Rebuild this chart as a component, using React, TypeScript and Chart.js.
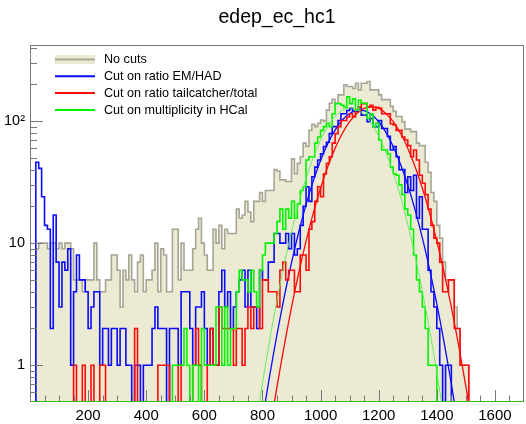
import React, { useEffect, useRef } from 'react';
import { Chart, registerables } from 'chart.js';

Chart.register(...registerables);

// ---------- data ----------
const titleText = 'edep_ec_hc1';
const binWidth = 10;
const xMin = 0;
const xMax = 1700;
const yMin = 0.5;
const yMax = 420;

const seriesLabels = [
  'No cuts',
  'Cut on ratio EM/HAD',
  'Cut on ratio tailcatcher/total',
  'Cut on multiplicity in HCal',
];

// counts per 10-unit bin, 0..1700
const noCuts = [
  0, 0, 9, 10, 10, 10, 9, 10, 10, 9,
  10, 9, 10, 10, 9, 5, 5, 5, 4, 5,
  5, 5, 10, 5, 4, 4, 5, 5, 8, 8,
  6, 3, 6, 5, 8, 5, 4, 7, 8, 4,
  5, 5, 6, 10, 4, 9, 8, 4, 4, 13,
  13, 5, 10, 6, 6, 6, 9, 13, 16, 10,
  8, 6, 6, 13, 10, 14, 9, 13, 12, 12,
  12, 19, 16, 17, 22, 18, 15, 22, 22, 26,
  22, 27, 27, 27, 40, 39, 33, 33, 32, 32,
  49, 37, 45, 51, 66, 62, 84, 94, 90, 96,
  102, 100, 123, 140, 151, 140, 164, 164, 198, 192,
  192, 185, 204, 180, 204, 204, 211, 180, 180, 180,
  164, 150, 150, 150, 132, 120, 109, 109, 99, 86,
  86, 82, 82, 66, 63, 63, 46, 38, 26, 22,
  14, 11, 7, 5, 5, 5, 3, 2, 1, 1,
  1, 0, 0, 0, 0, 0, 0, 0, 0, 0,
  0, 0, 0, 0, 0, 0, 0, 0, 0, 0,
];

const cutEmHad = [
  0, 0, 46, 41, 24, 14, 13, 2, 17, 7,
  3, 7, 6, 9, 1, 4, 8, 5, 5, 4,
  2, 3, 4, 4, 1, 2, 2, 1, 2, 2,
  1, 2, 2, 1, 1, 0, 1, 1, 0, 1,
  1, 1, 2, 3, 2, 2, 2, 0, 2, 2,
  2, 1, 4, 4, 4, 2, 1, 3, 3, 4,
  2, 1, 2, 1, 1, 4, 6, 3, 4, 2,
  3, 4, 5, 6, 3, 6, 3, 3, 2, 6,
  5, 5, 7, 7, 12, 12, 10, 10, 12, 9,
  12, 8, 9, 14, 20, 29, 22, 35, 42, 48,
  54, 62, 67, 79, 90, 90, 101, 115, 115, 122,
  127, 120, 120, 130, 112, 112, 99, 105, 90, 90,
  101, 87, 87, 75, 58, 62, 51, 40, 40, 26,
  35, 27, 36, 16, 24, 13, 13, 6, 4, 3,
  2, 1, 0, 1, 1, 0, 0, 0, 0, 0,
  0, 0, 0, 0, 0, 0, 0, 0, 0, 0,
  0, 0, 0, 0, 0, 0, 0, 0, 0, 0,
];

const cutTail = [
  0, 0, 0, 0, 0, 0, 0, 0, 0, 0,
  0, 0, 0, 0, 0, 1, 0, 0, 1, 0,
  0, 1, 0, 0, 1, 1, 0, 0, 0, 0,
  0, 0, 0, 0, 0, 0, 2, 0, 0, 0,
  0, 0, 0, 0, 1, 1, 1, 1, 0, 0,
  0, 1, 0, 0, 0, 0, 1, 2, 1, 0,
  0, 1, 2, 1, 1, 3, 2, 2, 2, 2,
  1, 2, 2, 1, 2, 3, 2, 3, 3, 2,
  5, 5, 4, 4, 4, 3, 6, 7, 5, 6,
  6, 4, 4, 8, 8, 6, 13, 15, 22, 29,
  24, 37, 45, 51, 66, 79, 90, 101, 101, 108,
  115, 108, 123, 130, 139, 139, 130, 135, 123, 130,
  128, 115, 115, 115, 95, 93, 84, 84, 74, 70,
  63, 51, 58, 48, 36, 31, 25, 19, 14, 11,
  10, 7, 4, 4, 5, 5, 2, 2, 1, 1,
  1, 0, 0, 0, 0, 0, 0, 0, 0, 0,
  0, 0, 0, 0, 0, 0, 0, 0, 0, 0,
];

const cutMult = [
  0, 0, 0, 0, 0, 0, 0, 0, 0, 0,
  0, 0, 0, 0, 0, 0, 0, 0, 0, 0,
  0, 0, 0, 0, 0, 0, 0, 0, 0, 0,
  0, 0, 0, 0, 0, 0, 0, 0, 0, 0,
  0, 0, 0, 0, 0, 0, 0, 0, 0, 1,
  1, 1, 1, 2, 1, 0, 1, 1, 0, 2,
  1, 1, 1, 1, 3, 3, 1, 3, 1, 2,
  2, 4, 6, 5, 5, 4, 6, 4, 3, 6,
  8, 10, 10, 10, 12, 15, 19, 13, 19, 16,
  22, 16, 21, 27, 29, 48, 51, 51, 66, 74,
  84, 90, 96, 90, 115, 139, 139, 135, 130, 158,
  139, 152, 123, 148, 140, 140, 105, 115, 90, 96,
  70, 58, 58, 54, 42, 37, 36, 30, 25, 19,
  17, 13, 8, 5, 4, 3, 2, 1, 1, 1,
  0, 0, 0, 0, 0, 0, 0, 0, 0, 0,
  0, 0, 0, 0, 0, 0, 0, 0, 0, 0,
  0, 0, 0, 0, 0, 0, 0, 0, 0, 0,
];

// fitted curves
const fitX = [
  750, 775, 800, 825, 850, 875, 900, 925, 950, 975, 1000,
  1025, 1050, 1075, 1100, 1125, 1150, 1175, 1200, 1225, 1250,
  1275, 1300, 1325, 1350, 1375, 1400, 1425, 1450, 1475, 1500,
  1525, 1550,
];
const fitEmHad = [
  0.055, 0.145, 0.357, 0.826, 1.79, 3.64, 6.94, 12.4, 20.7, 32.4, 47.6,
  65.5, 84.4, 102.0, 115.4, 122.4, 121.6, 113.2, 98.7, 80.7, 61.8,
  44.3, 29.8, 18.8, 11.1, 6.14, 3.18, 1.54, 0.702, 0.299, 0.12,
  0.045, 0.016,
];
const fitTail = [
  0.0157, 0.044, 0.116, 0.287, 0.667, 1.455, 2.99, 5.75, 10.4, 17.7, 28.3,
  42.5, 60.0, 79.5, 98.9, 115.6, 127.0, 131.0, 127.0, 115.6, 98.9,
  79.5, 60.0, 42.5, 28.3, 17.7, 10.4, 5.75, 2.99, 1.455, 0.667,
  0.287, 0.116,
];
const fitMult = [
  0.111, 0.291, 0.71, 1.61, 3.42, 6.76, 12.4, 21.3, 34.0, 50.6, 70.2,
  90.7, 109.2, 122.4, 128.0, 124.5, 113.0, 95.5, 75.2, 55.1, 37.7,
  24.0, 14.2, 7.87, 4.06, 1.95, 0.87, 0.362, 0.141, 0.051, 0.017,
  0.005, 0.0015,
];

const xTickValues = [200, 400, 600, 800, 1000, 1200, 1400, 1600];
const xMinorStep = 50;
const yTickValues = [
  0.6, 0.7, 0.8, 0.9,
  1, 2, 3, 4, 5, 6, 7, 8, 9,
  10, 20, 30, 40, 50, 60, 70, 80, 90,
  100, 200, 300, 400,
];
const yTickLabels: Record<number, string> = { 1: '1', 10: '10', 100: '10\u00B2' };

// ---------- styles ----------
const FONT = '"Liberation Sans", Arial, Helvetica, sans-serif';
const C_NC_LINE = 'rgb(166,165,150)';
const C_NC_FILL = 'rgb(236,234,211)';
const C_BLUE = 'rgb(10,10,255)';
const C_RED = 'rgb(255,10,10)';
const C_GREEN = 'rgb(0,245,0)';
const C_FRAME = 'rgb(120,120,120)';

function histPoints(vals: number[], close: boolean) {
  const pts = vals.map((v, i) => ({ x: xMin + i * binWidth, y: v > 0 ? v : yMin }));
  pts.push({ x: xMin + vals.length * binWidth, y: pts[pts.length - 1].y });
  if (close) {
    pts.push({ x: xMax, y: yMin });
    pts.push({ x: xMin, y: yMin });
  }
  return pts;
}

function fitPoints(vals: number[]) {
  return fitX.map((x, i) => ({ x, y: vals[i] }));
}

const legendRows = [
  { ds: 0, kind: 'box' },
  { ds: 1, kind: 'line' },
  { ds: 3, kind: 'line' },
  { ds: 5, kind: 'line' },
];

const rootFrame = {
  id: 'rootFrame',
  beforeDatasetsDraw(chart: any) {
    const { ctx, chartArea: a } = chart;
    ctx.save();
    ctx.strokeStyle = C_FRAME;
    ctx.lineWidth = 1;
    const l = Math.round(a.left) + 0.5;
    const t = Math.round(a.top) + 0.5;
    const r = Math.round(a.right) - 0.5;
    const b = Math.round(a.bottom) - 0.5;
    ctx.strokeRect(l, t, r - l, b - t);
    ctx.restore();
  },
  afterDatasetsDraw(chart: any) {
    const { ctx, chartArea: a, scales } = chart;
    const xs = scales.x;
    const ys = scales.y;
    ctx.save();
    ctx.strokeStyle = C_FRAME;
    ctx.lineWidth = 1;
    ctx.beginPath();
    for (let v = xMin + xMinorStep; v < xMax; v += xMinorStep) {
      const px = Math.round(xs.getPixelForValue(v)) + 0.5;
      const len = xTickValues.includes(v) ? 11 : 5.5;
      ctx.moveTo(px, a.bottom - 1);
      ctx.lineTo(px, a.bottom - 1 - len);
    }
    for (const v of yTickValues) {
      const py = Math.round(ys.getPixelForValue(v)) + 0.5;
      const len = yTickLabels[v] ? 13 : 7;
      ctx.moveTo(a.left, py);
      ctx.lineTo(a.left + len, py);
    }
    const lx = Math.round(a.left) + 0.5;
    ctx.moveTo(lx, a.top);
    ctx.lineTo(lx, a.bottom);
    ctx.stroke();

    // legend
    const sx0 = 55;
    const sx1 = 95;
    const tx = 104;
    const rowY = [59.5, 76.3, 93.1, 109.9];
    ctx.font = `12.6px ${FONT}`;
    ctx.textBaseline = 'middle';
    ctx.textAlign = 'left';
    legendRows.forEach((row, i) => {
      const ds = chart.data.datasets[row.ds];
      const y = rowY[i];
      if (row.kind === 'box') {
        ctx.fillStyle = ds.backgroundColor;
        ctx.fillRect(sx0, y - 4.5, sx1 - sx0, 9);
      }
      ctx.strokeStyle = ds.borderColor;
      ctx.lineWidth = 2;
      ctx.beginPath();
      ctx.moveTo(sx0, y);
      ctx.lineTo(sx1, y);
      ctx.stroke();
      ctx.fillStyle = '#000';
      ctx.fillText(ds.label, tx, y + 0.5);
    });
    ctx.restore();
  },
};

export default function App() {
  const ref = useRef<HTMLCanvasElement | null>(null);

  useEffect(() => {
    if (!ref.current) return;
    const histStyle = {
      stepped: 'before' as const,
      pointRadius: 0,
      borderWidth: 1.6,
      fill: false,
      tension: 0,
    };
    const fitStyle = {
      pointRadius: 0,
      fill: false,
      tension: 0.3,
    };
    const chart = new Chart(ref.current, {
      type: 'line',
      data: {
        datasets: [
          {
            ...histStyle,
            label: seriesLabels[0],
            data: histPoints(noCuts, false),
            borderColor: C_NC_LINE,
            backgroundColor: C_NC_FILL,
            fill: 'start',
            order: 7,
          },
          {
            ...histStyle,
            label: seriesLabels[1],
            data: histPoints(cutEmHad, true),
            borderColor: C_BLUE,
            order: 6,
          },
          {
            ...fitStyle,
            label: 'fit ' + seriesLabels[1],
            data: fitPoints(fitEmHad),
            borderColor: C_BLUE,
            borderWidth: 1.3,
            order: 5,
          },
          {
            ...histStyle,
            label: seriesLabels[2],
            data: histPoints(cutTail, true),
            borderColor: C_RED,
            order: 4,
          },
          {
            ...fitStyle,
            label: 'fit ' + seriesLabels[2],
            data: fitPoints(fitTail),
            borderColor: C_RED,
            borderWidth: 1.3,
            order: 3,
          },
          {
            ...histStyle,
            label: seriesLabels[3],
            data: histPoints(cutMult, true),
            borderColor: C_GREEN,
            order: 2,
          },
          {
            ...fitStyle,
            label: 'fit ' + seriesLabels[3],
            data: fitPoints(fitMult),
            borderColor: 'rgb(90,235,90)',
            borderWidth: 0.9,
            order: 1,
          },
        ] as any,
      },
      options: {
        responsive: false,
        animation: false,
        events: [],
        layout: { padding: { left: 0, right: 2, top: 0, bottom: 0 } },
        plugins: {
          legend: { display: false },
          tooltip: { enabled: false },
          title: {
            display: true,
            text: titleText,
            fullSize: false,
            color: '#000',
            font: { family: FONT, size: 19.5, weight: 'normal' },
            padding: { top: 5.5, bottom: 16.1 },
          },
        },
        scales: {
          x: {
            type: 'linear',
            min: xMin,
            max: xMax,
            grid: { display: false, drawTicks: false },
            border: { display: false },
            ticks: {
              autoSkip: false,
              maxRotation: 0,
              padding: 5,
              color: '#000',
              font: { family: FONT, size: 15 },
              callback: (v: any) => String(v),
            },
            afterBuildTicks: (s: any) => {
              s.ticks = xTickValues.map((v) => ({ value: v }));
            },
            afterFit: (s: any) => {
              s.height = 22;
            },
          },
          y: {
            type: 'logarithmic',
            min: yMin,
            max: yMax,
            grid: { display: false, drawTicks: false },
            border: { display: false },
            ticks: {
              autoSkip: false,
              padding: 5,
              color: '#000',
              font: { family: FONT, size: 14.5 },
              callback: (v: any) => yTickLabels[Number(v)] ?? '',
            },
            afterBuildTicks: (s: any) => {
              s.ticks = yTickValues.map((v) => ({ value: v }));
            },
            afterFit: (s: any) => {
              s.width = 30;
            },
          },
        },
      } as any,
      plugins: [rootFrame],
    });
    return () => chart.destroy();
  }, []);

  return (
    <div style={{ position: 'absolute', left: 0, top: 0, width: 526, height: 424, background: '#fff' }}>
      <canvas ref={ref} width={526} height={424} style={{ display: 'block', width: 526, height: 424 }} />
    </div>
  );
}
